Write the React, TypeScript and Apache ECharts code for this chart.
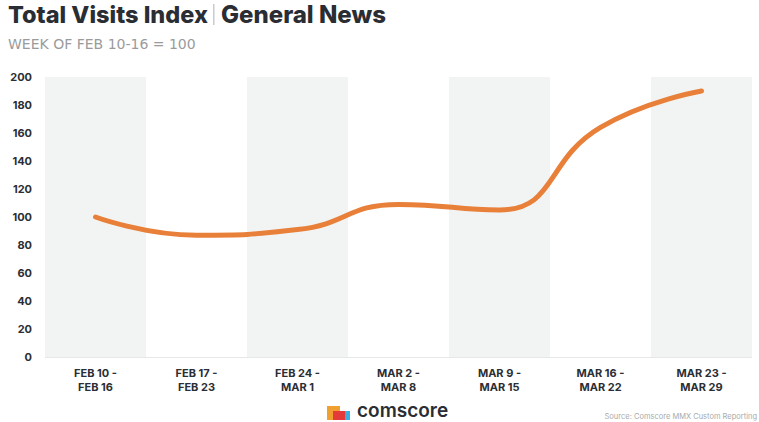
import React, { useEffect, useRef } from "react";
import * as echarts from "echarts";

const categories = [
  "FEB 10 -\nFEB 16",
  "FEB 17 -\nFEB 23",
  "FEB 24 -\nMAR 1",
  "MAR 2 -\nMAR 8",
  "MAR 9 -\nMAR 15",
  "MAR 16 -\nMAR 22",
  "MAR 23 -\nMAR 29",
];
const visitsIndex = [100, 87, 91, 109, 105, 164, 190];
const yTicks = { min: 0, max: 200, interval: 20 };
const titleMain = "Total Visits Index";
const titleSub = "General News";
const subtitle = "WEEK OF FEB 10-16 = 100";
const source = "Source: Comscore MMX Custom Reporting";

export default function App() {
  const ref = useRef<HTMLDivElement>(null);
  useEffect(() => {
    const chart = echarts.init(ref.current!, null, { renderer: "svg" });
    chart.setOption({
      animation: false,
      backgroundColor: "#ffffff",
      grid: { left: 45, right: 7, top: 77, bottom: 65 },
      xAxis: {
        type: "category",
        data: categories,
        boundaryGap: true,
        axisLine: { show: false },
        axisTick: { show: false },
        splitArea: { show: true, areaStyle: { color: ["#f2f3f3", "#ffffff"] } },
        axisLabel: {
          color: "#2b2e34",
          fontFamily: "Inter",
          fontWeight: 700,
          fontSize: 11,
          lineHeight: 14,
          margin: 9,
          align: "center",
        },
      },
      yAxis: {
        type: "value",
        min: yTicks.min,
        max: yTicks.max,
        interval: yTicks.interval,
        axisLine: { show: false },
        axisTick: { show: false },
        splitLine: { lineStyle: { color: "#e6e7e7", width: 1 } },
        axisLabel: {
          color: "#2b2e34",
          fontFamily: "Inter",
          fontWeight: 700,
          fontSize: 11,
          margin: 13,
        },
      },
      series: [
        {
          type: "line",
          data: visitsIndex,
          smooth: 0.5,
          symbol: "none",
          lineStyle: { color: "#e8803a", width: 5, cap: "round", join: "round" },
        },
      ],
      graphic: [
        {
          type: "text",
          left: 8,
          top: 2,
          style: {
            text: titleMain,
            fontFamily: "Inter",
            fontWeight: 800,
            fontSize: 23.5,
            lineHeight: 25,
            fill: "#2a2d34",
          },
        },
        {
          type: "rect",
          shape: { x: 213, y: 4, width: 1.5, height: 21 },
          style: { fill: "#c9cbcd" },
        },
        {
          type: "text",
          left: 221,
          top: 2,
          style: {
            text: titleSub,
            fontFamily: "Inter",
            fontWeight: 800,
            fontSize: 24,
            lineHeight: 25,
            fill: "#2a2d34",
          },
        },
        {
          type: "text",
          left: 8,
          top: 37,
          style: {
            text: subtitle,
            fontFamily: "DejaVu Sans",
            fontWeight: 400,
            fontSize: 14,
            fill: "#9a9b9d",
          },
        },
        { type: "rect", shape: { x: 327, y: 406, width: 13, height: 14 }, style: { fill: "#f0a030" } },
        { type: "rect", shape: { x: 333, y: 411, width: 12, height: 9 }, style: { fill: "#e43a3a" } },
        { type: "rect", shape: { x: 345, y: 411, width: 5, height: 9 }, style: { fill: "#3bb1e0" } },
        {
          type: "text",
          left: 357,
          top: 401,
          style: {
            text: "comscore",
            fontFamily: "Inter",
            fontWeight: 600,
            fontSize: 19,
            fill: "#2a2d34",
          },
        },
        {
          type: "text",
          right: 2,
          top: 412,
          style: {
            text: source,
            fontFamily: "Inter",
            fontSize: 7.5,
            fill: "#a9aaac",
          },
        },
      ],
    });
    return () => chart.dispose();
  }, []);
  return <div ref={ref} style={{ width: 759, height: 422, position: "absolute", left: 0, top: 0 }} />;
}
